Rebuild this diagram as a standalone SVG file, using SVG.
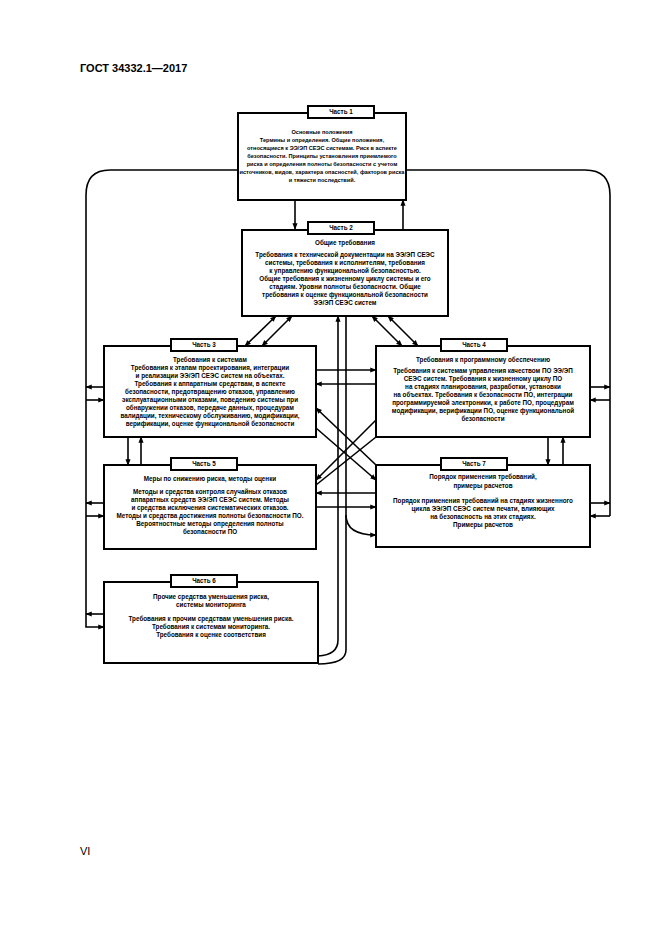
<svg xmlns="http://www.w3.org/2000/svg" width="661" height="935" viewBox="0 0 661 935">
<defs>
<marker id="a" viewBox="0 0 10 10" refX="9" refY="5" markerWidth="4" markerHeight="4" orient="auto-start-reverse"><path d="M0,1 L10,5 L0,9 z" fill="#000"/></marker>
<style>
.b{fill:#fff;stroke:#000;stroke-width:2}
.l{fill:#fff;stroke:#000;stroke-width:2}
.t{font-family:"Liberation Sans",Arial,sans-serif;font-size:6.3px;font-weight:bold;text-anchor:middle;fill:#000}
.s{font-size:5.6px}
.c{fill:none;stroke:#000;stroke-width:1.6}
</style>
</defs>
<rect width="661" height="935" fill="#fff"/>
<text x="80" y="72" style="font-family:'Liberation Sans',Arial,sans-serif;font-size:11px;font-weight:bold">ГОСТ 34332.1—2017</text>
<text x="80" y="855" style="font-family:'Liberation Sans',Arial,sans-serif;font-size:11px">VI</text>
<g id="connectors">
<path class="c" d="M238,170 H110 Q86,170 86,195 V614"/>
<path class="c" d="M406,170 H585 Q610,170 610,195 V516"/>
<path class="c" d="M86,387 H104" marker-start="url(#a)"/>
<path class="c" d="M86,400 H104" marker-end="url(#a)"/>
<path class="c" d="M86,503 H104" marker-start="url(#a)"/>
<path class="c" d="M86,516 H104" marker-end="url(#a)"/>
<path class="c" d="M86,614 H104" marker-start="url(#a)"/>
<path class="c" d="M86,614 V627 H104" marker-end="url(#a)"/>
<path class="c" d="M610,387 H590" marker-start="url(#a)"/>
<path class="c" d="M610,400 H590" marker-end="url(#a)"/>
<path class="c" d="M610,503 H590" marker-start="url(#a)"/>
<path class="c" d="M610,516 H590" marker-end="url(#a)"/>
<path class="c" d="M295,200 V229" marker-end="url(#a)"/>
<path class="c" d="M403,229 V200" marker-end="url(#a)"/>
<path class="c" d="M276,316 L245,346" marker-start="url(#a)" marker-end="url(#a)"/>
<path class="c" d="M292,316 L262,346" marker-start="url(#a)" marker-end="url(#a)"/>
<path class="c" d="M372,316 L402,346" marker-start="url(#a)" marker-end="url(#a)"/>
<path class="c" d="M388,316 L418,346" marker-start="url(#a)" marker-end="url(#a)"/>
<path class="c" d="M316,370 H376" marker-end="url(#a)"/>
<path class="c" d="M376,384 H316" marker-end="url(#a)"/>
<path class="c" d="M376,493 H316" marker-end="url(#a)"/>
<path class="c" d="M316,507 H376" marker-end="url(#a)"/>
<path class="c" d="M316,408 L376,465" marker-start="url(#a)"/>
<path class="c" d="M316,428 L376,480" marker-end="url(#a)"/>
<path class="c" d="M376,420 L316,480" marker-end="url(#a)"/>
<path class="c" d="M376,437 L316,485"/>
<path class="c" d="M338,316 V640 Q338,655 318,656" marker-start="url(#a)"/>
<path class="c" d="M346,316 V650 Q346,664 318,664"/>
<path class="c" d="M346,515 Q346,535 376,535" marker-end="url(#a)"/>
<path class="c" d="M128,437 V465" marker-end="url(#a)"/>
<path class="c" d="M141,465 V437" marker-end="url(#a)"/>
<path class="c" d="M548,437 V465" marker-end="url(#a)"/>
<path class="c" d="M563,465 V437" marker-end="url(#a)"/>
</g>
<g id="part1">
<rect class="b" x="238" y="113" width="168" height="87"/>
<rect class="l" x="308" y="106" width="66" height="12"/>
<text class="t" x="341" y="114">Часть 1</text>
<text class="t s" x="322" y="134">Основные положения</text>
<text class="t s" x="322" y="142">Термины и определения. Общие положения,</text>
<text class="t s" x="322" y="150">относящиеся к ЭЭ/ЭП СЕЭС системам. Риск в аспекте</text>
<text class="t s" x="322" y="158">безопасности. Принципы установления приемлемого</text>
<text class="t s" x="322" y="166">риска и определения полноты безопасности с учетом</text>
<text class="t s" x="322" y="174">источников, видов, характера опасностей, факторов риска</text>
<text class="t s" x="322" y="182">и тяжести последствий.</text>
</g>
<g id="part2">
<rect class="b" x="242" y="230" width="206" height="86"/>
<rect class="l" x="308" y="222" width="66" height="12"/>
<text class="t" x="341" y="230">Часть 2</text>
<text class="t" x="345" y="245">Общие требования</text>
<text class="t" x="345" y="257">Требования к технической документации на ЭЭ/ЭП СЕЭС</text>
<text class="t" x="345" y="265">системы, требования к исполнителям, требования</text>
<text class="t" x="345" y="273">к управлению функциональной безопасностью.</text>
<text class="t" x="345" y="281">Общие требования к жизненному циклу системы и его</text>
<text class="t" x="345" y="289">стадиям. Уровни полноты безопасности. Общие</text>
<text class="t" x="345" y="297">требования к оценке функциональной безопасности</text>
<text class="t" x="345" y="305">ЭЭ/ЭП СЕЭС систем</text>
</g>
<g id="part3">
<rect class="b" x="104" y="346" width="212" height="91"/>
<rect class="l" x="171" y="339" width="66" height="12"/>
<text class="t" x="204" y="347">Часть 3</text>
<text class="t" x="210" y="362">Требования к системам</text>
<text class="t" x="210" y="370">Требования к этапам проектирования, интеграции</text>
<text class="t" x="210" y="378">и реализации ЭЭ/ЭП СЕЭС систем на объектах.</text>
<text class="t" x="210" y="386">Требования к аппаратным средствам, в аспекте</text>
<text class="t" x="210" y="394">безопасности, предотвращению отказов, управлению</text>
<text class="t" x="210" y="402">эксплуатационными отказами, поведению системы при</text>
<text class="t" x="210" y="410">обнаружении отказов, передаче данных, процедурам</text>
<text class="t" x="210" y="418">валидации, техническому обслуживанию, модификации,</text>
<text class="t" x="210" y="426">верификации, оценке функциональной безопасности</text>
</g>
<g id="part4">
<rect class="b" x="376" y="346" width="214" height="91"/>
<rect class="l" x="441" y="339" width="66" height="12"/>
<text class="t" x="474" y="347">Часть 4</text>
<text class="t" x="483" y="362">Требования к программному обеспечению</text>
<text class="t" x="483" y="373">Требования к системам управления качеством ПО ЭЭ/ЭП</text>
<text class="t" x="483" y="381">СЕЭС систем. Требования к жизненному циклу ПО</text>
<text class="t" x="483" y="389">на стадиях планирования, разработки, установки</text>
<text class="t" x="483" y="397">на объектах. Требования к безопасности ПО, интеграции</text>
<text class="t" x="483" y="405">программируемой электроники, к работе ПО, процедурам</text>
<text class="t" x="483" y="413">модификации, верификации ПО, оценке функциональной</text>
<text class="t" x="483" y="421">безопасности</text>
</g>
<g id="part5">
<rect class="b" x="104" y="465" width="212" height="84"/>
<rect class="l" x="171" y="458" width="66" height="12"/>
<text class="t" x="204" y="466">Часть 5</text>
<text class="t" x="210" y="481">Меры по снижению риска, методы оценки</text>
<text class="t" x="210" y="494">Методы и средства контроля случайных отказов</text>
<text class="t" x="210" y="502">аппаратных средств ЭЭ/ЭП СЕЭС систем. Методы</text>
<text class="t" x="210" y="510">и средства исключения систематических отказов.</text>
<text class="t" x="210" y="518">Методы и средства достижения полноты безопасности ПО.</text>
<text class="t" x="210" y="526">Вероятностные методы определения полноты</text>
<text class="t" x="210" y="534">безопасности ПО</text>
</g>
<g id="part7">
<rect class="b" x="376" y="465" width="214" height="82"/>
<rect class="l" x="441" y="458" width="66" height="12"/>
<text class="t" x="474" y="466">Часть 7</text>
<text class="t" x="483" y="479">Порядок применения требований,</text>
<text class="t" x="483" y="488">примеры расчетов</text>
<text class="t" x="483" y="503">Порядок применения требований на стадиях жизненного</text>
<text class="t" x="483" y="511">цикла ЭЭ/ЭП СЕЭС систем печати, влияющих</text>
<text class="t" x="483" y="519">на безопасность на этих стадиях.</text>
<text class="t" x="483" y="527">Примеры расчетов</text>
</g>
<g id="part6">
<rect class="b" x="104" y="582" width="214" height="81"/>
<rect class="l" x="171" y="575" width="66" height="12"/>
<text class="t" x="204" y="583">Часть 6</text>
<text class="t" x="211" y="599">Прочие средства уменьшения риска,</text>
<text class="t" x="211" y="607">системы мониторинга</text>
<text class="t" x="211" y="621">Требования к прочим средствам уменьшения риска.</text>
<text class="t" x="211" y="629">Требования к системам мониторинга.</text>
<text class="t" x="211" y="637">Требования к оценке соответствия</text>
</g>
</svg>
